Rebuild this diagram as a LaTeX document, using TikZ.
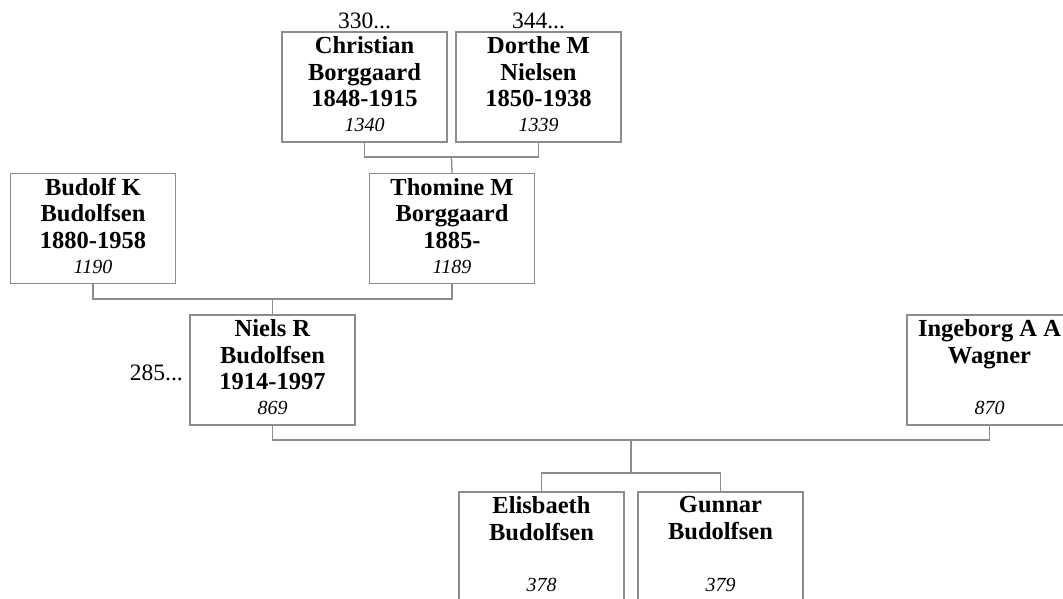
\documentclass[tikz,border=0pt]{standalone}
\usepackage{fontspec}
\setmainfont{Liberation Serif}
\usetikzlibrary{calc}
\definecolor{linegray}{RGB}{140,140,140}
\tikzset{
  pbox/.style={draw=linegray, line width=1.3pt, minimum width=165pt, minimum height=110pt, inner sep=0pt},
  nm/.style={anchor=north, align=center, inner sep=0pt, font=\fontsize{24.5}{26.5}\selectfont\bfseries},
  idn/.style={anchor=base, inner sep=0pt, font=\fontsize{20}{22}\selectfont\itshape},
  refl/.style={inner sep=0pt, font=\fontsize{23.5}{26}\selectfont},
  conn/.style={draw=linegray, line width=1.3pt}
}
\newcommand{\person}[5]{%
  \node[pbox] (#1) at (#2,#3) {};
  \node[nm] (#1-n) at ($(#1.north)+(0,5)$) {#4};
  \node[idn] (#1-i) at ($(#1.north)+(0,100.5)$) {#5};
}
\begin{document}
\begin{tikzpicture}[x=1pt,y=-1pt]
\useasboundingbox (0,0) rectangle (1063,598);
\clip (0,0) rectangle (1063,598);
\fill[white] (0,0) rectangle (1063,598);
% generation 1
\person{chr}{364.5}{87}{Christian\\Borggaard\\1848-1915}{1340}
\person{dor}{538.5}{87}{Dorthe M\\Nielsen\\1850-1938}{1339}
\node[refl, anchor=base] (r330) at ($(chr.north)+(0,-3)$) {330...};
\node[refl, anchor=base] (r344) at ($(dor.north)+(0,-3)$) {344...};
% generation 2
\person{bud}{93}{228.5}{Budolf K\\Budolfsen\\1880-1958}{1190}
\person{tho}{452}{228.5}{Thomine M\\Borggaard\\1885-}{1189}
% generation 3
\person{nie}{272.5}{370}{Niels R\\Budolfsen\\1914-1997}{869}
\person{ing}{989.5}{370}{Ingeborg A A\\Wagner}{870}
\node[refl, anchor=base east] (r285) at (183,380) {285...};
% generation 4
\person{eli}{541.5}{547}{Elisbaeth\\Budolfsen}{378}
\person{gun}{720.5}{547}{Gunnar\\Budolfsen}{379}
% connectors
\coordinate (c1) at (451.5,157);
\coordinate (c2) at (272.5,299);
\coordinate (c3) at (631,440);
\coordinate (c4) at (631,473);
\draw[conn] (chr.south) |- (c1) -| (dor.south);
\draw[conn] (c1) -- (tho.north);
\draw[conn] (bud.south) |- (c2) -| (tho.south);
\draw[conn] (c2) -- (nie.north);
\draw[conn] (nie.south) |- (c3) -| (ing.south);
\draw[conn] (c3) -- (c4);
\draw[conn] (eli.north) |- (c4) -| (gun.north);
\end{tikzpicture}
\end{document}
